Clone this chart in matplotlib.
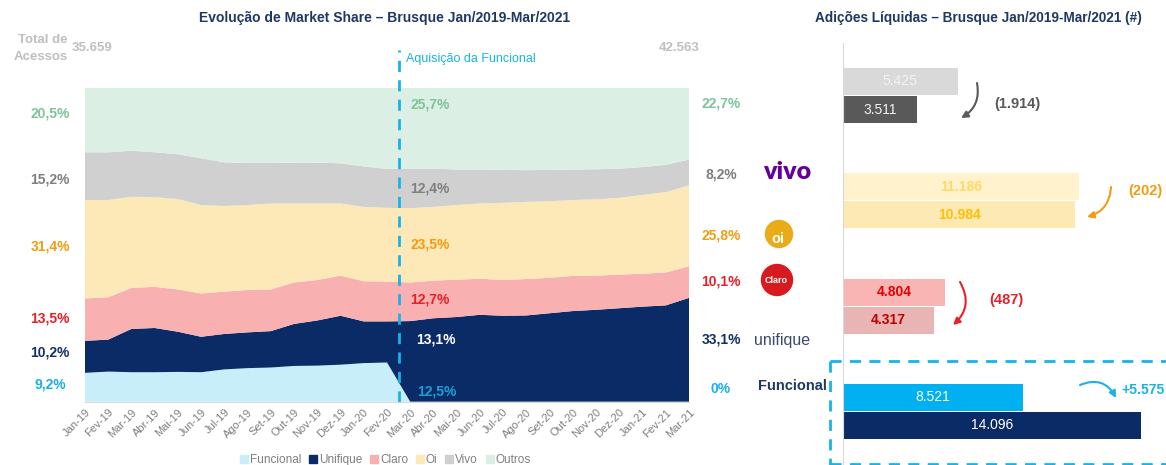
import numpy as np
import matplotlib
matplotlib.use("Agg")
import matplotlib.pyplot as plt
from matplotlib.lines import Line2D
from matplotlib.patches import Circle, FancyArrowPatch
from matplotlib.transforms import blended_transform_factory

W, H = 1166, 465
NARROW = ['Liberation Sans Narrow', 'Liberation Sans', 'DejaVu Sans']
ARIAL = ['Liberation Sans', 'DejaVu Sans']

# ---- market share data (% of accesses) ----
months = ['Jan-19', 'Fev-19', 'Mar-19', 'Abr-19', 'Mai-19', 'Jun-19', 'Jul-19', 'Ago-19', 'Set-19',
          'Out-19', 'Nov-19', 'Dez-19', 'Jan-20', 'Fev-20', 'Mar-20', 'Abr-20', 'Mai-20', 'Jun-20',
          'Jul-20', 'Ago-20', 'Set-20', 'Out-20', 'Nov-20', 'Dez-20', 'Jan-21', 'Fev-21', 'Mar-21']
funcional = [9.2, 9.6, 9.4, 9.4, 9.5, 9.4, 10.3, 10.7, 10.9, 11.4, 11.5, 11.8, 12.3, 12.5,
             0, 0, 0, 0, 0, 0, 0, 0, 0, 0, 0, 0, 0]
unifique = [10.2, 10.2, 13.8, 14.1, 12.8, 11.3, 11.3, 11.4, 11.6, 13.4, 14.4, 15.6, 13.3, 13.1,
            25.7, 26.6, 27.0, 27.7, 27.4, 27.5, 28.2, 28.9, 29.3, 29.8, 30.3, 30.7, 33.1]
claro = [13.5, 13.5, 13.1, 13.1, 13.5, 13.8, 13.5, 13.5, 13.3, 13.2, 12.9, 12.8, 12.8, 12.7,
         12.3, 12.0, 11.9, 11.5, 11.4, 11.6, 11.3, 11.2, 10.9, 10.7, 10.5, 10.5, 10.1]
oi = [31.4, 31.0, 29.0, 28.6, 28.8, 28.2, 27.3, 27.1, 27.4, 25.2, 24.4, 23.0, 23.7, 23.5,
      23.7, 23.5, 23.8, 24.0, 24.6, 24.6, 24.4, 24.2, 24.3, 24.5, 25.1, 25.6, 25.8]
vivo = [15.2, 15.2, 14.7, 14.3, 14.3, 14.9, 13.9, 13.4, 12.9, 13.0, 13.0, 12.8, 12.9, 12.4,
        12.6, 12.2, 11.3, 10.8, 10.5, 10.1, 10.0, 9.7, 9.6, 9.3, 8.9, 8.7, 8.2]
outros = [20.5, 20.5, 20.0, 20.5, 21.1, 22.4, 23.7, 23.9, 23.9, 23.8, 23.8, 24.0, 25.0, 25.8,
          25.7, 25.7, 26.0, 26.0, 26.1, 26.2, 26.1, 26.0, 25.9, 25.7, 25.2, 24.5, 22.8]
series_names = ['Funcional', 'Unifique', 'Claro', 'Oi', 'Vivo', 'Outros']
start_labels = ['9,2%', '10,2%', '13,5%', '31,4%', '15,2%', '20,5%']
mid_labels = ['12,5%', '13,1%', '12,7%', '23,5%', '12,4%', '25,7%']
end_labels = ['0%', '33,1%', '10,1%', '25,8%', '8,2%', '22,7%']
total_start, total_end = '35.659', '42.563'
acquisition_idx = 13.5

# ---- net additions data ----
adds_before = [5425, 11186, 4804, 8521]
adds_after = [3511, 10984, 4317, 14096]
adds_before_lbl = ['5.425', '11.186', '4.804', '8.521']
adds_after_lbl = ['3.511', '10.984', '4.317', '14.096']
adds_delta_lbl = ['(1.914)', '(202)', '(487)', '+5.575']

area_colors = ['#c8eefa', '#0b2b67', '#f8b0b0', '#fde9b7', '#d0d0d0', '#dbefe4']
lbl_colors = ['#19b0e8', '#14306b', '#e8202a', '#f39c12', '#7f7f7f', '#7dc49b']


def fx(px):
    return px / W


def fy(py):
    return 1 - py / H


fig = plt.figure(figsize=(W / 100, H / 100), dpi=100)

# ================= left: stacked area =================
ax = fig.add_axes([fx(85), fy(401.7), fx(689) - fx(85), (401.7 - 88) / H])
x = np.arange(len(months))
ax.stackplot(x, funcional, unifique, claro, oi, vivo, outros, colors=area_colors, linewidth=0)
ax.set_xlim(0, len(months) - 1)
ax.set_ylim(0, 100)
for s in ['top', 'right', 'left']:
    ax.spines[s].set_visible(False)
ax.spines['bottom'].set_color('#d9d9d9')
ax.set_yticks([])
ax.set_xticks(x)
ax.set_xticklabels(months, rotation=45, ha='right', rotation_mode='anchor',
                   fontsize=8, color='#7f7f7f', family=NARROW)
ax.tick_params(axis='x', length=0, pad=4)

ax.axvline(acquisition_idx, ymin=0, ymax=1.12, clip_on=False, color='#19b2e8', lw=2, ls=(0, (4, 3)))

# start / end / middle labels
lefty = [5.6, 15.8, 26.4, 49.6, 70.7, 92.0]
righty = [4.0, 19.7, 38.2, 53.1, 72.3, 94.9]
midy = [3.4, 19.7, 32.7, 50.0, 68.1, 94.6]
midx = [14.3, 14.25, 14.0, 14.0, 14.0, 14.0]
mid_colors = ['#1a9fd8', 'white', '#e8202a', '#f39c12', '#7f7f7f', '#7dc49b']
trans = blended_transform_factory(ax.transAxes, ax.transData)
for k in range(len(series_names)):
    ax.text(-0.058, lefty[k], start_labels[k], transform=trans, ha='center',
            va='center', fontsize=10, weight='bold', color=lbl_colors[k], family=NARROW)
    ax.text(1.053, righty[k], end_labels[k], transform=trans, ha='center', va='center',
            fontsize=10, weight='bold', color=lbl_colors[k], family=NARROW)
    ax.text(midx[k], midy[k], mid_labels[k], ha='left', va='center',
            fontsize=10, weight='bold', color=mid_colors[k], family=NARROW)

fig.text(fx(68), fy(40), 'Total de', ha='right', va='center', fontsize=9.5, weight='bold',
         color='#bfbfbf', family=NARROW)
fig.text(fx(68), fy(57), 'Acessos', ha='right', va='center', fontsize=9.5, weight='bold',
         color='#bfbfbf', family=NARROW)
fig.text(fx(72), fy(48), total_start, ha='left', va='center', fontsize=9.5, weight='bold',
         color='#bfbfbf', family=NARROW)
fig.text(fx(700), fy(48), total_end, ha='right', va='center', fontsize=9.5, weight='bold',
         color='#bfbfbf', family=NARROW)
fig.text(fx(406), fy(59), 'Aquisição da Funcional', ha='left', va='center', fontsize=9,
         color='#19b2e8', family=NARROW)
fig.text(fx(385), fy(18), 'Evolução de Market Share – Brusque Jan/2019-Mar/2021', ha='center',
         va='center', fontsize=10, weight='bold', color='#1f3864', family=NARROW)

handles = [Line2D([], [], marker='s', ls='none', markersize=6, color=c) for c in area_colors]
fig.legend(handles, series_names, loc='center', bbox_to_anchor=(fx(385), fy(460)), ncol=6,
           frameon=False, handletextpad=0.1, columnspacing=0.6, handlelength=0.8,
           prop={'family': NARROW, 'size': 8.5}, labelcolor='#7f7f7f')

# ================= right: net additions =================
axr = fig.add_axes([fx(843), 0, fx(1166) - fx(843), (465 - 43) / H])
pos = np.arange(len(adds_before))
bh = 0.256
axr.barh(pos - 0.133, adds_before, height=bh, color=['#d9d9d9', '#fff2cc', '#f9b4b4', '#00b0f0'])
axr.barh(pos + 0.133, adds_after, height=bh, color=['#595959', '#fde9b3', '#e8b4b4', '#0b2b67'])
axr.set_xlim(0, 323 * 47.3)
axr.set_ylim(3.509, -0.4986)
for s in ['top', 'right', 'bottom']:
    axr.spines[s].set_visible(False)
axr.spines['left'].set_color('#d9d9d9')
axr.set_xticks([])
axr.set_yticks([])

before_tc = ['#f2f2f2', '#ffd966', '#e60000', 'white']
after_tc = ['#f2f2f2', '#ffc000', '#c00000', 'white']
bar_w = ['normal', 'bold', 'bold', 'normal']
for i in pos:
    axr.text(adds_before[i] / 2, i - 0.133, adds_before_lbl[i], ha='center', va='center',
             fontsize=10, color=before_tc[i], weight=bar_w[i], family=ARIAL)
    axr.text(adds_after[i] / 2, i + 0.133, adds_after_lbl[i], ha='center', va='center',
             fontsize=10, color=after_tc[i], weight=bar_w[i], family=ARIAL)

delta_pos = [(1017, 104, 'center'), (1145, 191, 'center'), (1006, 300, 'center'), (1121, 390, 'left')]
delta_col = ['#595959', '#f39c12', '#e8202a', '#19b2e8']
delta_fs = [10.5, 10.5, 10.5, 10]
arrows = [((977, 83), (961, 118)), ((1111, 187), (1087, 217)),
          ((960, 282), (953, 325)), ((1080, 385), (1116, 398))]
rads = [-0.35, -0.35, -0.4, -0.45]
for k in range(4):
    px, py, ha = delta_pos[k]
    fig.text(fx(px), fy(py), adds_delta_lbl[k], ha=ha, va='center', fontsize=delta_fs[k],
             weight='bold', color=delta_col[k], family=ARIAL)
    (x0, y0), (x1, y1) = arrows[k]
    fig.add_artist(FancyArrowPatch(
        (fx(x0), fy(y0)), (fx(x1), fy(y1)), transform=fig.transFigure,
        arrowstyle='-|>', mutation_scale=10, lw=1.5, color=delta_col[k], shrinkA=0, shrinkB=0,
        connectionstyle=f'arc3,rad={rads[k]}'))

fig.text(fx(978), fy(18), 'Adições Líquidas – Brusque Jan/2019-Mar/2021 (#)', ha='center',
         va='center', fontsize=9.8, weight='bold', color='#1f3864', family=ARIAL)

# logos
fig.text(fx(787), fy(172), 'vivo', ha='center', va='center', fontsize=18, weight='heavy',
         color='#660099', family=['Lato', 'DejaVu Sans'])
fig.add_artist(Circle((779 / 100, (H - 234) / 100), 0.135, transform=fig.dpi_scale_trans,
                      color='#e9ab17'))
fig.text(fx(778), fy(239), 'oi', ha='center', va='center', fontsize=10.5, weight='bold',
         color='white', family=ARIAL)
fig.add_artist(Circle((777 / 100, (H - 280) / 100), 0.155, transform=fig.dpi_scale_trans,
                      color='#d71920'))
fig.text(fx(776), fy(280), 'Claro', ha='center', va='center', fontsize=6.5, weight='bold',
         color='white', family=ARIAL)
fig.text(fx(782), fy(340), 'unifique', ha='center', va='center', fontsize=11.5, color='#3a4a6e',
         family=ARIAL)
fig.text(fx(792), fy(386), 'Funcional', ha='center', va='center', fontsize=10.5, weight='bold',
         color='#1f3864', family=ARIAL)

# dashed highlight box around Funcional/Unifique
box = dict(transform=fig.transFigure, color='#19b2e8', lw=2, ls=(0, (4, 3)))
fig.add_artist(Line2D([fx(830), fx(1166)], [fy(361), fy(361)], **box))
fig.add_artist(Line2D([fx(830), fx(830)], [fy(361), fy(465)], **box))
fig.add_artist(Line2D([fx(830), fx(1166)], [fy(464), fy(464)], **box))

fig.savefig('out.png', dpi=100)
